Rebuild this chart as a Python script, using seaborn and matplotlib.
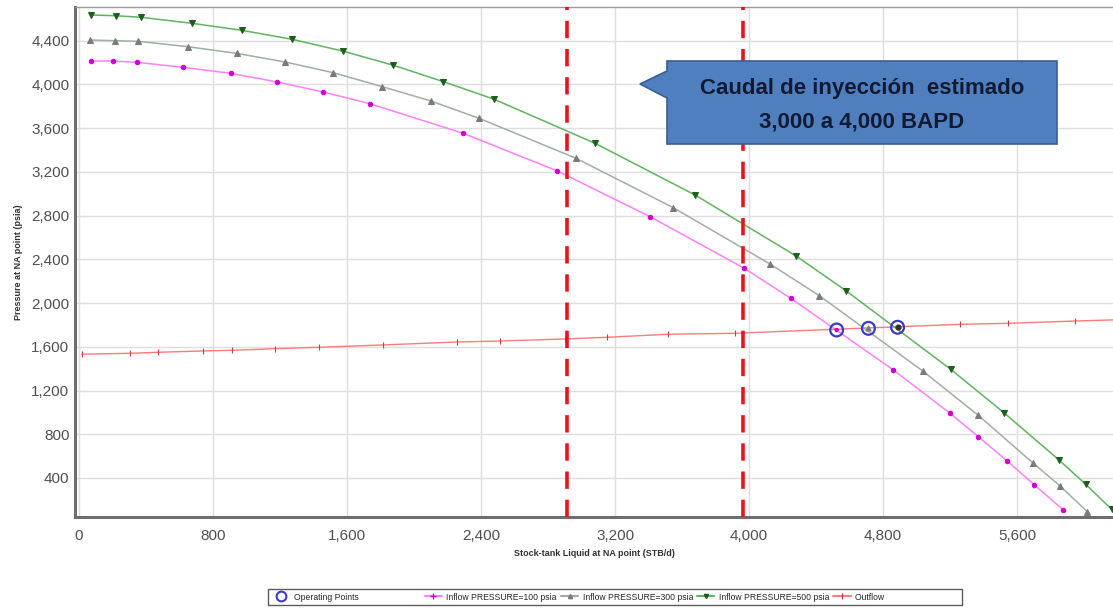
import matplotlib
matplotlib.use("Agg")
import matplotlib.pyplot as plt
import seaborn as sns
import numpy as np
from matplotlib.patches import Polygon
from matplotlib.lines import Line2D
from matplotlib.ticker import FuncFormatter, FixedLocator

# ---------------- data ----------------
q_p100 = [70, 205, 344, 623, 906, 1184, 1459, 1737, 2294, 2856, 3409, 3972, 4249, 4862, 5200, 5369, 5539, 5704, 5877]
p_p100 = [4215, 4215, 4203, 4157, 4102, 4023, 3931, 3824, 3553, 3209, 2791, 2318, 2044, 1388, 992, 778, 558, 336, 107]

q_p300 = [66, 215, 354, 649, 941, 1230, 1518, 1811, 2101, 2388, 2967, 3548, 4125, 4420, 5037, 5369, 5693, 5857, 6020]
p_p300 = [4407, 4401, 4395, 4346, 4285, 4206, 4108, 3980, 3849, 3691, 3325, 2873, 2358, 2068, 1379, 973, 540, 327, 91]

q_p500 = [72, 221, 370, 673, 971, 1273, 1574, 1873, 2175, 2478, 3081, 3678, 4281, 4579, 5204, 5522, 5851, 6010, 6165]
p_p500 = [4636, 4629, 4615, 4560, 4496, 4413, 4306, 4178, 4026, 3865, 3462, 2989, 2431, 2113, 1394, 997, 564, 342, 113]

q_out = [16, 304, 473, 738, 911, 1170, 1434, 1816, 2254, 2513, 2901, 3150, 3518, 3916, 5260, 5548, 5946, 6300]
p_out = [1532, 1541, 1550, 1562, 1568, 1583, 1596, 1617, 1644, 1653, 1672, 1687, 1715, 1724, 1806, 1815, 1836, 1852]

q_op = [4523, 4713, 4887]
p_op = [1754, 1769, 1779]

q_limits = [2915, 3965]

x_ticks = [0, 800, 1600, 2400, 3200, 4000, 4800, 5600]
y_ticks = [400, 800, 1200, 1600, 2000, 2400, 2800, 3200, 3600, 4000, 4400]

series_labels = ["Operating Points", "Inflow PRESSURE=100 psia", "Inflow PRESSURE=300 psia",
                 "Inflow PRESSURE=500 psia", "Outflow"]
callout_text = "Caudal de inyección  estimado\n3,000 a 4,000 BAPD"
x_label = "Stock-tank Liquid at NA point (STB/d)"
y_label = "Pressure at NA point (psia)"

# ---------------- style ----------------
sns.set_style("white")
plt.rcParams['font.family'] = ['Liberation Sans', 'DejaVu Sans']

W, H = 1113, 608
fig = plt.figure(figsize=(W / 100, H / 100), dpi=100)
ax = fig.add_axes([75 / W, 1 - 517 / H, (W - 75) / W, (517 - 7) / H])

c_pink_line, c_pink_mk = "#ff80ff", "#d000d0"
c_gray_line, c_gray_mk = "#9fb09f", "#7a7a7a"
c_green_line, c_green_mk = "#5fb45f", "#1d5e1d"
c_red_line, c_red_mk = "#ff7a7a", "#c84040"

ax.set_xlim(-24, 6173)
ax.set_ylim(43, 4709)

ax.xaxis.set_major_locator(FixedLocator(x_ticks))
ax.yaxis.set_major_locator(FixedLocator(y_ticks))
fmt = FuncFormatter(lambda v, p: f"{int(v):,}")
ax.xaxis.set_major_formatter(fmt)
ax.yaxis.set_major_formatter(fmt)
ax.grid(True, color="#dedede", lw=1.0)
ax.set_axisbelow(True)

sns.lineplot(x=q_out, y=p_out, ax=ax, color=c_red_line, lw=1.0, marker="|", markersize=4.5,
             markeredgecolor=c_red_mk, markeredgewidth=0.8, estimator=None)
sns.lineplot(x=q_p100, y=p_p100, ax=ax, color=c_pink_line, lw=1.1, marker="o", markersize=3.2,
             markerfacecolor=c_pink_mk, markeredgecolor=c_pink_mk, estimator=None)
sns.lineplot(x=q_p300, y=p_p300, ax=ax, color=c_gray_line, lw=1.1, marker="^", markersize=3.8,
             markerfacecolor=c_gray_mk, markeredgecolor=c_gray_mk, estimator=None)
sns.lineplot(x=q_p500, y=p_p500, ax=ax, color=c_green_line, lw=1.1, marker="v", markersize=3.8,
             markerfacecolor=c_green_mk, markeredgecolor=c_green_mk, estimator=None)

# operating points: inner markers + hollow blue circles
sns.scatterplot(x=q_op[0:1], y=p_op[0:1], ax=ax, color=c_pink_mk, s=10,
                edgecolor="none", zorder=5, legend=False)
ax.scatter(q_op[1:2], p_op[1:2], marker="^", s=12, color=c_gray_mk, zorder=5)
ax.scatter(q_op[2:3], p_op[2:3], marker="o", s=12, color="#333333", zorder=5)
ax.scatter(q_op, p_op, s=85, facecolors="none", edgecolors="#3a3acc", linewidths=1.6, zorder=6)

for qv in q_limits:
    ax.axvline(qv, color="#e8141c", lw=2.6, linestyle=(0, (4.8, 3.0)), zorder=4)

for s in ["left", "bottom"]:
    ax.spines[s].set_color("#6e6e6e")
    ax.spines[s].set_linewidth(2.2)
ax.spines["top"].set_color("#9a9a9a")
ax.spines["top"].set_linewidth(1.0)
ax.spines["right"].set_visible(False)

ax.tick_params(axis="x", which="both", length=0, pad=9, labelsize=11, labelcolor="#505050")
ax.tick_params(axis="y", which="both", length=0, pad=4, labelsize=11, labelcolor="#505050")

ax.set_xlabel(x_label, fontsize=6.5, fontweight="bold", color="#333333", labelpad=4)
ax.set_ylabel(y_label, fontsize=6.5, fontweight="bold", color="#333333", labelpad=6)

# callout
def fp(x, y):
    return (x / W, 1 - y / H)

pts = [fp(667, 61), fp(1057, 61), fp(1057, 144), fp(667, 144), fp(667, 98), fp(640, 84), fp(667, 71)]
fig.patches.append(Polygon(pts, closed=True, transform=fig.transFigure, facecolor="#4f7fbe",
                           edgecolor="#3a5f8f", lw=1.2, zorder=10))
fig.text(862 / W, 1 - 105.5 / H, callout_text, ha="center", va="center", fontsize=16,
         fontweight="bold", color="#111a33", linespacing=1.8,
         family=["Liberation Sans", "DejaVu Sans"], zorder=11)

# legend
handles = [
    Line2D([], [], ls="none", marker="o", markersize=7, markerfacecolor="none",
           markeredgecolor="#3a3acc", markeredgewidth=1.5),
    Line2D([], [], color=c_pink_line, marker="+", markersize=5, markeredgecolor=c_pink_mk),
    Line2D([], [], color=c_gray_line, marker="^", markersize=3, markeredgecolor=c_gray_mk, markerfacecolor=c_gray_mk),
    Line2D([], [], color=c_green_line, marker="v", markersize=3, markeredgecolor=c_green_mk, markerfacecolor=c_green_mk),
    Line2D([], [], color=c_red_line, marker="|", markersize=4, markeredgecolor=c_red_mk),
]
leg_labels = [series_labels[0] + " " * 26] + series_labels[1:4] + [series_labels[4] + " " * 31]
leg = fig.legend(handles, leg_labels, loc="center", bbox_to_anchor=(615 / W, 1 - 597 / H), ncol=5,
                 fontsize=6.2, frameon=True, fancybox=False, edgecolor="#333333", handlelength=2.0,
                 columnspacing=0.5, borderpad=0.45, handletextpad=0.5, borderaxespad=0)
leg.get_frame().set_linewidth(1.0)

fig.savefig("out.png", dpi=100)
